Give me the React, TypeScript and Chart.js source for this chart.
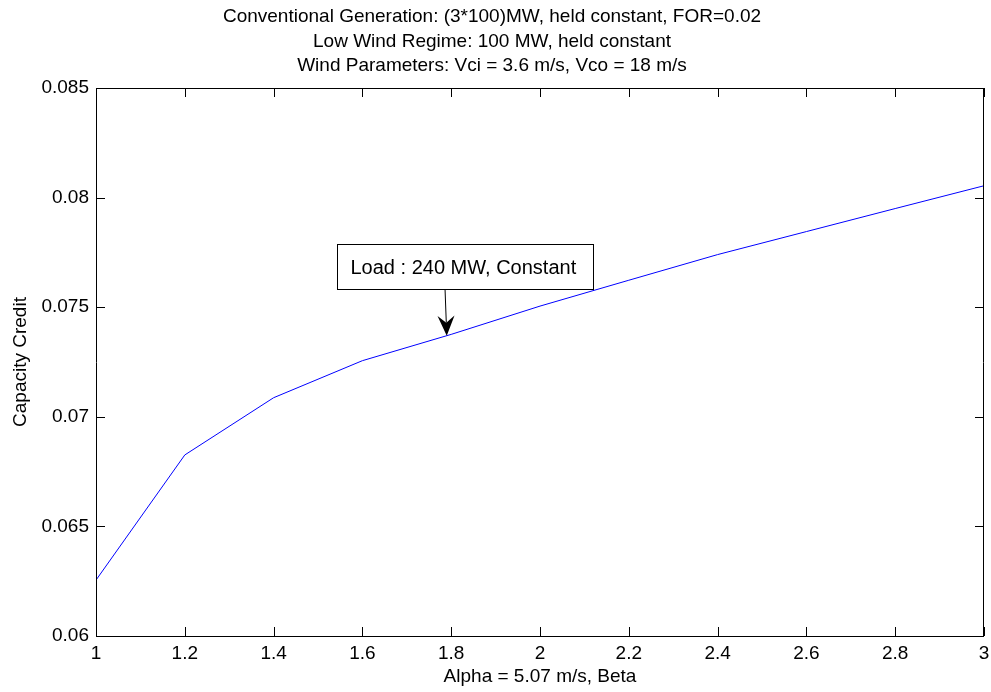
import React, { useEffect, useRef } from "react";
import { Chart, registerables } from "chart.js";

Chart.register(...registerables);

// Shape parameter Beta on the x axis
const BETA = [1.0, 1.2, 1.4, 1.6, 1.8, 2.0, 2.2, 2.4, 2.6, 2.8, 3.0];
// Capacity credit for each Beta
const CAPACITY_CREDIT = [
  0.06255, 0.06826, 0.07087, 0.07256, 0.07376, 0.07505, 0.07623, 0.0774,
  0.07845, 0.0795, 0.08054,
];
const X_TICKS = [1, 1.2, 1.4, 1.6, 1.8, 2, 2.2, 2.4, 2.6, 2.8, 3];
const Y_TICKS = [0.06, 0.065, 0.07, 0.075, 0.08, 0.085];

const TITLE_LINES = [
  "Conventional Generation: (3*100)MW, held constant, FOR=0.02",
  "Low Wind Regime: 100 MW, held constant",
  "Wind Parameters: Vci = 3.6 m/s, Vco = 18 m/s",
];
const X_LABEL = "Alpha = 5.07 m/s, Beta";
const Y_LABEL = "Capacity Credit";
const NOTE_TEXT = "Load : 240 MW, Constant";
// Beta value the note's arrow points at on the curve
const NOTE_AT_BETA = 1.79;

const FONT_FAMILY = "'Liberation Sans', Arial, Helvetica, sans-serif";

// Linear interpolation of the curve at a given Beta
function creditAt(b: number): number {
  for (let k = 0; k < BETA.length - 1; k++) {
    if (b >= BETA[k] && b <= BETA[k + 1]) {
      const t = (b - BETA[k]) / (BETA[k + 1] - BETA[k]);
      return CAPACITY_CREDIT[k] + t * (CAPACITY_CREDIT[k + 1] - CAPACITY_CREDIT[k]);
    }
  }
  return CAPACITY_CREDIT[CAPACITY_CREDIT.length - 1];
}

// Axes box with inward tick marks on all four sides, plus the arrow note
const frameAndNote = {
  id: "frameAndNote",
  afterDraw(chart: any) {
    const { ctx, chartArea: a, scales } = chart;
    const xs = scales.x;
    const ys = scales.y;
    const tick = 9;
    ctx.save();
    ctx.strokeStyle = "#000";
    ctx.lineWidth = 1;
    ctx.beginPath();
    ctx.rect(a.left + 0.5, a.top + 0.5, a.right - a.left - 1, a.bottom - a.top);
    for (const v of X_TICKS) {
      const px = Math.round(xs.getPixelForValue(v)) + 0.5;
      ctx.moveTo(px, a.bottom);
      ctx.lineTo(px, a.bottom - tick);
      ctx.moveTo(px, a.top);
      ctx.lineTo(px, a.top + tick);
    }
    for (const v of Y_TICKS) {
      const py = Math.round(ys.getPixelForValue(v)) + 0.5;
      ctx.moveTo(a.left, py);
      ctx.lineTo(a.left + tick, py);
      ctx.moveTo(a.right, py);
      ctx.lineTo(a.right - tick, py);
    }
    ctx.stroke();

    // note box and arrow pointing at the curve
    const tipX = xs.getPixelForValue(NOTE_AT_BETA);
    const tipY = ys.getPixelForValue(creditAt(NOTE_AT_BETA));
    const boxL = Math.round(tipX - 110) + 0.5;
    const boxT = Math.round(tipY - 92) + 0.5;
    const boxW = 256;
    const boxH = 45;
    ctx.fillStyle = "#fff";
    ctx.fillRect(boxL, boxT, boxW, boxH);
    ctx.strokeStyle = "#000";
    ctx.strokeRect(boxL, boxT, boxW, boxH);
    ctx.fillStyle = "#000";
    ctx.font = `20px ${FONT_FAMILY}`;
    ctx.textAlign = "left";
    ctx.textBaseline = "middle";
    ctx.fillText(NOTE_TEXT, boxL + 13, boxT + boxH / 2 + 1);

    const tailX = tipX - 1.7;
    const tailY = boxT + boxH;
    const ang = Math.atan2(tipY - tailY, tipX - tailX);
    const headLen = 20;
    const halfW = 8.5;
    const notch = 13;
    const ux = Math.cos(ang);
    const uy = Math.sin(ang);
    const nx = -uy;
    const ny = ux;
    ctx.beginPath();
    ctx.moveTo(tailX, tailY);
    ctx.lineTo(tipX - ux * notch, tipY - uy * notch);
    ctx.stroke();
    ctx.beginPath();
    ctx.moveTo(tipX, tipY);
    ctx.lineTo(tipX - ux * headLen + nx * halfW, tipY - uy * headLen + ny * halfW);
    ctx.lineTo(tipX - ux * notch, tipY - uy * notch);
    ctx.lineTo(tipX - ux * headLen - nx * halfW, tipY - uy * headLen - ny * halfW);
    ctx.closePath();
    ctx.fill();
    ctx.restore();
  },
};

export default function App() {
  const canvasRef = useRef<HTMLCanvasElement | null>(null);

  useEffect(() => {
    if (!canvasRef.current) return;
    Chart.defaults.color = "#000";
    Chart.defaults.font.family = FONT_FAMILY;

    const chart = new Chart(canvasRef.current, {
      type: "line",
      data: {
        datasets: [
          {
            data: BETA.map((b, k) => ({ x: b, y: CAPACITY_CREDIT[k] })),
            borderColor: "#0000ff",
            borderWidth: 1,
            pointRadius: 0,
            tension: 0,
            fill: false,
          },
        ],
      },
      options: {
        animation: false,
        responsive: true,
        maintainAspectRatio: false,
        layout: { padding: { left: 0, right: 7, top: 0, bottom: 0 } },
        plugins: {
          legend: { display: false },
          tooltip: { enabled: false },
          title: {
            display: true,
            text: TITLE_LINES,
            color: "#000",
            font: { size: 19, family: FONT_FAMILY, weight: "normal", lineHeight: "24.5px" },
            padding: { top: 5, bottom: 9.5 },
          },
        },
        scales: {
          x: {
            type: "linear",
            min: 1,
            max: 3,
            afterBuildTicks: (s: any) => {
              s.ticks = X_TICKS.map((v) => ({ value: v }));
            },
            afterFit: (s: any) => {
              s.height = 56;
              s.paddingLeft = 0;
              s.paddingRight = 0;
            },
            grid: { display: false, drawTicks: false },
            border: { display: false },
            ticks: {
              autoSkip: false,
              maxRotation: 0,
              padding: 6,
              color: "#000",
              font: { size: 19, family: FONT_FAMILY },
              callback: (v: any) => String(Number(Number(v).toFixed(1))),
            },
            title: {
              display: true,
              text: X_LABEL,
              color: "#000",
              font: { size: 19, family: FONT_FAMILY },
              padding: { top: 0, bottom: 4 },
            },
          },
          y: {
            type: "linear",
            min: 0.06,
            max: 0.085,
            afterBuildTicks: (s: any) => {
              s.ticks = Y_TICKS.map((v) => ({ value: v }));
            },
            afterFit: (s: any) => {
              s.width = 96;
              s.paddingTop = 0;
              s.paddingBottom = 0;
            },
            grid: { display: false, drawTicks: false },
            border: { display: false },
            ticks: {
              padding: 7,
              color: "#000",
              font: { size: 19, family: FONT_FAMILY },
              callback: (v: any) => String(Number(Number(v).toFixed(3))),
            },
            title: {
              display: true,
              text: Y_LABEL,
              color: "#000",
              font: { size: 19, family: FONT_FAMILY },
              padding: { top: 9, bottom: 0 },
            },
          },
        },
      },
      plugins: [frameAndNote],
    });
    return () => chart.destroy();
  }, []);

  return (
    <div
      style={{
        position: "fixed",
        left: 0,
        top: 0,
        width: 991,
        height: 692,
        background: "#fff",
      }}
    >
      <canvas ref={canvasRef} />
    </div>
  );
}
